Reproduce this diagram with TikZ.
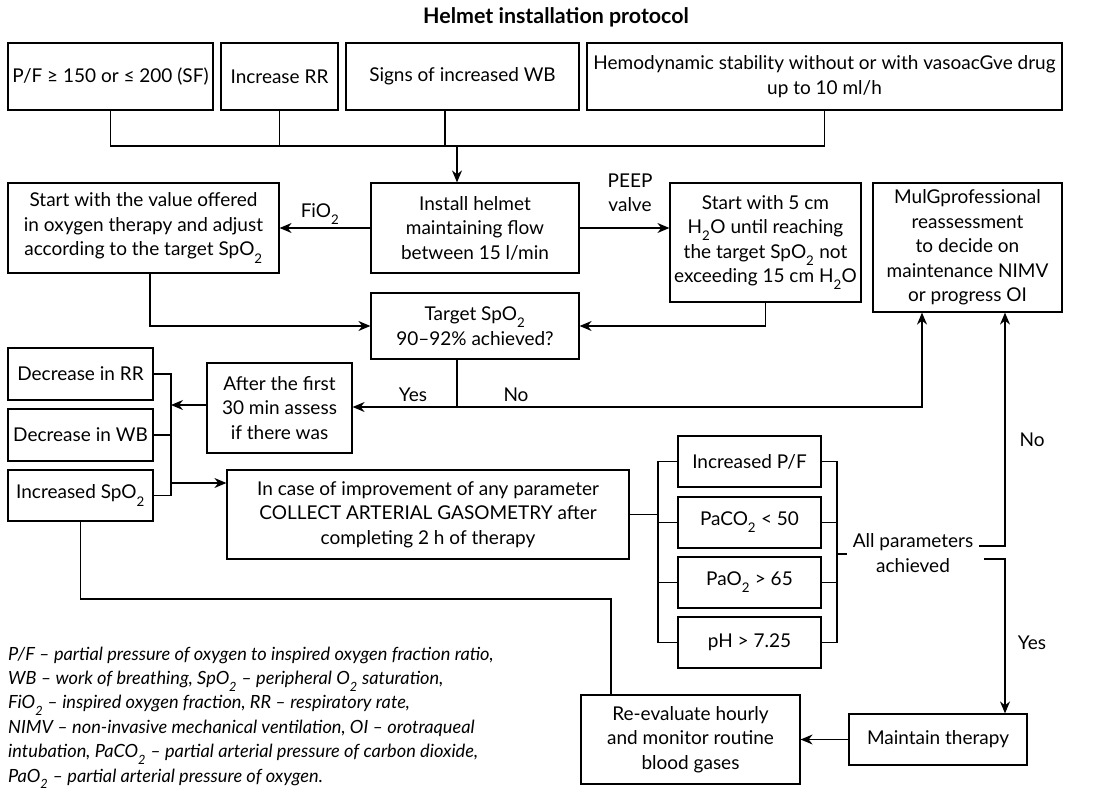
\documentclass[tikz,border=0pt]{standalone}
\usepackage{fontspec}
\setmainfont{Lato}
\usetikzlibrary{arrows.meta}
\newcommand{\lowtwo}{\raisebox{-0.35ex}{\textsubscript{2}}}
\newcommand{\mainsz}{\fontsize{19}{24.5}\selectfont}
\newcommand{\legsz}{\fontsize{18.2}{24.4}\selectfont}
\begin{document}
\begin{tikzpicture}[x=1pt,y=-1pt,
  box/.style={draw, line width=1.2pt, inner sep=0pt, align=center, font=\mainsz},
  lbl/.style={inner sep=0pt, align=center, font=\mainsz},
  ln/.style={line width=1.2pt},
  arr/.style={line width=1.2pt, -{Stealth[length=12pt,width=10pt]}}]
\useasboundingbox (0,0) rectangle (1105,789);
\node[inner sep=0pt, font=\bfseries\fontsize{21.4}{24}\selectfont] (title) at (556,17) {Helmet installation protocol};
% top row
\node[box, minimum width=205pt, minimum height=67pt] (pf) at (110.5,76.5) {P/F ≥ 150 or ≤ 200 (SF)};
\node[box, minimum width=117pt, minimum height=67pt] (rr) at (279.5,76.5) {Increase RR};
\node[box, minimum width=233pt, minimum height=67pt] (wb) at (462.5,76.5) {Signs of increased WB};
\node[box, minimum width=475pt, minimum height=67pt] (hemo) at (824.5,76.5) {Hemodynamic stability without or with vasoacGve drug\\up to 10 ml/h};
% second row
\node[box, minimum width=271pt, minimum height=90pt] (start) at (143.5,228) {Start with the value offered\\in oxygen therapy and adjust\\according to the target SpO\lowtwo};
\node[box, minimum width=208pt, minimum height=90pt] (install) at (475,228) {Install helmet\\maintaining flow\\between 15 l/min};
\node[box, minimum width=191pt, minimum height=119pt] (peep) at (765.5,242.5) {Start with 5 cm\\H\lowtwo O until reaching\\the target SpO\lowtwo\ not\\exceeding 15 cm H\lowtwo O};
\node[box, minimum width=189pt, minimum height=129pt] (multi) at (967.5,247.5) {MulGprofessional\\reassessment\\to decide on\\maintenance NIMV\\or progress OI};
\node[box, minimum width=208pt, minimum height=66pt] (target) at (475,326) {Target SpO\lowtwo\\90–92\% achieved?};
\node[box, minimum width=145pt, minimum height=90pt] (after) at (279.5,408) {After the first\\30 min assess\\if there was};
% left column
\node[box, minimum width=145pt, minimum height=52pt] (dRR) at (80.5,374) {Decrease in RR};
\node[box, minimum width=145pt, minimum height=52pt] (dWB) at (80.5,435) {Decrease in WB};
\node[box, minimum width=145pt, minimum height=51pt] (iSp) at (80.5,495.5) {Increased SpO\lowtwo};
\node[box, minimum width=402pt, minimum height=89pt] (incase) at (428,514.5) {In case of improvement of any parameter\\COLLECT ARTERIAL GASOMETRY after\\completing 2 h of therapy};
% parameters
\node[box, minimum width=143pt, minimum height=51pt] (ipf) at (749.5,461.5) {Increased P/F};
\node[box, minimum width=143pt, minimum height=51pt] (paco) at (749.5,522.5) {PaCO\lowtwo\ < 50};
\node[box, minimum width=143pt, minimum height=51pt] (pao) at (749.5,582.5) {PaO\lowtwo\ > 65};
\node[box, minimum width=143pt, minimum height=51pt] (ph) at (749.5,642.5) {pH > 7.25};
\node[lbl] (allp) at (913,553) {All parameters\\achieved};
% bottom
\node[box, minimum width=219pt, minimum height=89pt] (reeval) at (690.5,739.5) {Re-evaluate hourly\\and monitor routine\\blood gases};
\node[box, minimum width=178pt, minimum height=51pt] (maintain) at (938,739.5) {Maintain therapy};
% labels
\node[lbl] (lfio) at (320,214) {FiO\lowtwo};
\node[lbl] (lpeep) at (630,193) {PEEP\\valve};
\node[lbl] (lyes1) at (413,395) {Yes};
\node[lbl] (lno1) at (516,395) {No};
\node[lbl] (lno2) at (1032,440) {No};
\node[lbl] (lyes2) at (1032,643) {Yes};
% connectors top
\coordinate (j) at (457,146);
\coordinate (wbj) at (445,146);
\draw[ln] (pf.south) |- (j);
\draw[ln] (hemo.south) |- (j);
\draw[ln] (rr.south) -- (rr.south |- j);
\draw[ln] (wbj |- wb.south) -- (wbj);
\draw[arr] (j) -- (j |- install.north);
\draw[arr] (install.west) -- (start.east);
\draw[arr] (install.east) -- (install.east -| peep.west);
\draw[arr] ([xshift=6.5pt]start.south) |- (target.west);
\draw[arr] (peep.south) |- (target.east);
\coordinate (t1) at (457,407);
\coordinate (m1) at (922,407);
\draw[ln] (target.south -| t1) -- (t1);
\draw[arr] (t1) -- (after.east |- t1);
\draw[arr] (t1) -- (m1) -- (m1 |- multi.south);
% left bracket
\coordinate (b) at (171,405);
\coordinate (b2) at (171,483);
\draw[arr] (after.west |- b) -- (b);
\draw[ln] (dRR.east) -- (dRR.east -| b) -- (iSp.east -| b) -- (iSp.east);
\draw[ln] (dWB.east) -- (dWB.east -| b);
\draw[arr] (b2) -- (b2 -| incase.west);
\coordinate (r1) at (611,599);
\draw[ln] (iSp.south) |- (r1) -- (r1 |- reeval.north);
% parameter brackets
\coordinate (pl) at (658,514.5);
\draw[ln] (incase.east) -- (pl);
\draw[ln] (ipf.west) -- (ipf.west -| pl) -- (ph.west -| pl) -- (ph.west);
\draw[ln] (paco.west) -- (paco.west -| pl);
\draw[ln] (pao.west) -- (pao.west -| pl);
\coordinate (pr) at (837,554);
\coordinate (pr2) at (847,554);
\draw[ln] (ipf.east) -- (ipf.east -| pr) -- (ph.east -| pr) -- (ph.east);
\draw[ln] (paco.east) -- (paco.east -| pr);
\draw[ln] (pao.east) -- (pao.east -| pr);
\draw[ln] (pr) -- (pr2);
\coordinate (a1) at (979,546);
\coordinate (a2) at (1005,546);
\coordinate (a3) at (984,559);
\coordinate (a4) at (1005,559);
\draw[arr] (a1) -- (a2) -- (a2 |- multi.south);
\draw[arr] (a3) -- (a4) -- (a4 |- maintain.north);
\draw[arr] (maintain.west) -- (reeval.east);
% legend
\node[anchor=north west, align=left, inner sep=0pt, font=\legsz\itshape] (leg) at (8,646.5) {P/F – partial pressure of oxygen to inspired oxygen fraction ratio,\\
WB – work of breathing, SpO\lowtwo\ – peripheral O\lowtwo\ saturation,\\
FiO\lowtwo\ – inspired oxygen fraction, RR – respiratory rate,\\
NIMV – non-invasive mechanical ventilation, OI – orotraqueal\\
intubation, PaCO\lowtwo\ – partial arterial pressure of carbon dioxide,\\
PaO\lowtwo\ – partial arterial pressure of oxygen.};
\end{tikzpicture}
\end{document}
